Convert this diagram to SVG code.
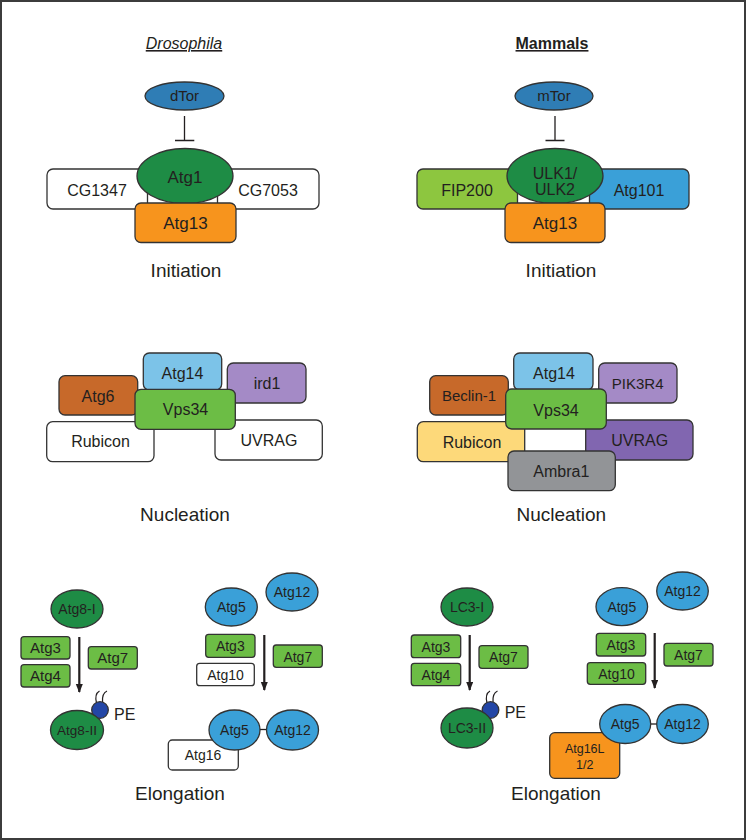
<svg xmlns="http://www.w3.org/2000/svg" width="746" height="840" viewBox="0 0 746 840">
<defs>
<style>
text{font-family:"Liberation Sans",Arial,sans-serif;fill:#231f20;text-anchor:middle}
.n{stroke:#333;stroke-width:1.3}
.w{fill:#fff}
.tor{fill:#2f7db5}
.dg{fill:#1e8c45}
.or{fill:#f7941d}
.lg{fill:#8dc63f}
.bl{fill:#3aa0d8}
.sky{fill:#7cc3e8}
.lav{fill:#a48ac6}
.br{fill:#c7692a}
.gr{fill:#6cbd45}
.yl{fill:#fdd97a}
.pu{fill:#8166b0}
.gy{fill:#929497}
.pe{fill:#2346a6}
.f19{font-size:19px}
.f17{font-size:17px}
.f16{font-size:16px}
.f15{font-size:15px}
.f14{font-size:14px}
.f13{font-size:13.5px}
.f12{font-size:12.5px}
.hd{font-size:16px;text-decoration:underline}
.ln{stroke:#231f20;stroke-width:1.3;fill:none}
.ar{stroke:#231f20;stroke-width:2.2;fill:none;marker-end:url(#ah)}
.tail{stroke:#231f20;stroke-width:1.2;fill:none}
</style>
<marker id="ah" markerUnits="userSpaceOnUse" markerWidth="10" markerHeight="8" refX="8" refY="3.5" orient="auto"><path d="M0,0 L9,3.5 L0,7 z" fill="#231f20"/></marker>
</defs>
<rect x="0" y="0" width="746" height="840" fill="#fff"/>
<rect x="1" y="1" width="744" height="838" fill="none" stroke="#3c3c3c" stroke-width="2"/>

<text class="hd" x="184" y="49" font-style="italic">Drosophila</text>
<text class="hd" x="552" y="49" font-weight="bold">Mammals</text>

<g id="connectors">
<path class="ln" d="M184.5,116 V140.5 M175,140.5 H194.3"/>
<path class="ln" d="M555,116 V140.5 M545.5,140.5 H564.5"/>
<line class="ar" x1="79.3" y1="637" x2="79.3" y2="692"/>
<line class="ar" x1="264.3" y1="635" x2="264.3" y2="690"/>
<line class="ar" x1="469.7" y1="635" x2="469.7" y2="690"/>
<line class="ar" x1="654.7" y1="633" x2="654.7" y2="688"/>
<line class="ln" x1="260" y1="729.5" x2="267" y2="729.5"/>
<line class="ln" x1="650.5" y1="724" x2="657" y2="724"/>
</g>

<!-- Drosophila initiation -->
<g id="dTor"><ellipse class="n tor" cx="184.5" cy="96" rx="39.5" ry="14"/><text class="f15" x="184.5" y="101">dTor</text></g>
<g id="CG1347"><rect class="n w" x="47" y="169" width="100.5" height="40" rx="6"/><text class="f16" x="97" y="196">CG1347</text></g>
<g id="CG7053"><rect class="n w" x="217.5" y="169" width="101.5" height="40" rx="6"/><text class="f16" x="268" y="196">CG7053</text></g>
<g id="Atg1"><ellipse class="n dg" cx="185" cy="176" rx="48" ry="27.5"/><text class="f17" x="185" y="183">Atg1</text></g>
<g id="Atg13-d"><rect class="n or" x="135" y="203" width="101" height="39.5" rx="6"/><text class="f17" x="185.5" y="229">Atg13</text></g>
<text class="f19" x="186" y="277">Initiation</text>

<!-- Mammal initiation -->
<g id="mTor"><ellipse class="n tor" cx="554" cy="96" rx="39" ry="14"/><text class="f15" x="554" y="101">mTor</text></g>
<g id="FIP200"><rect class="n lg" x="417" y="169" width="100.5" height="40" rx="6"/><text class="f16" x="467" y="196">FIP200</text></g>
<g id="Atg101"><rect class="n bl" x="589.5" y="169" width="99.5" height="40" rx="6"/><text class="f16" x="639" y="196">Atg101</text></g>
<g id="ULK"><ellipse class="n dg" cx="555" cy="176" rx="48" ry="27.5"/><text class="f16" x="555" y="178.5">ULK1/</text><text class="f16" x="555" y="195">ULK2</text></g>
<g id="Atg13-m"><rect class="n or" x="505" y="203" width="100" height="39.5" rx="6"/><text class="f17" x="555" y="229">Atg13</text></g>
<text class="f19" x="561" y="277">Initiation</text>

<!-- Drosophila nucleation -->
<g id="Atg6"><rect class="n br" x="59" y="375.7" width="78.7" height="39.3" rx="6"/><text class="f16" x="98" y="402">Atg6</text></g>
<g id="Atg14-d"><rect class="n sky" x="143.3" y="353" width="78.4" height="37" rx="6"/><text class="f16" x="182.5" y="379">Atg14</text></g>
<g id="ird1"><rect class="n lav" x="227.3" y="363" width="78.7" height="40" rx="6"/><text class="f16" x="267" y="389">ird1</text></g>
<g id="Rubicon-d"><rect class="n w" x="46.7" y="421.7" width="107.3" height="40" rx="6"/><text class="f16" x="100.5" y="447">Rubicon</text></g>
<g id="UVRAG-d"><rect class="n w" x="215" y="420" width="107.3" height="40" rx="6"/><text class="f16" x="269" y="446">UVRAG</text></g>
<g id="Vps34-d"><rect class="n gr" x="135" y="389.3" width="100.3" height="40" rx="6"/><text class="f16" x="185.5" y="415">Vps34</text></g>
<text class="f19" x="185" y="521">Nucleation</text>

<!-- Mammal nucleation -->
<g id="Beclin1"><rect class="n br" x="429.7" y="375.7" width="78.6" height="39.3" rx="6"/><text class="f15" x="469" y="400.5">Beclin-1</text></g>
<g id="Atg14-m"><rect class="n sky" x="513.7" y="353" width="79.3" height="37" rx="6"/><text class="f16" x="554" y="379">Atg14</text></g>
<g id="PIK3R4"><rect class="n lav" x="598.7" y="363" width="78.3" height="40" rx="6"/><text class="f15" x="637.7" y="389">PIK3R4</text></g>
<g id="Rubicon-m"><rect class="n yl" x="417.3" y="421.7" width="107.4" height="40" rx="6"/><text class="f16" x="472" y="447.5">Rubicon</text></g>
<g id="UVRAG-m"><rect class="n pu" x="585.7" y="420" width="107.3" height="40" rx="6"/><text class="f16" x="639.7" y="446">UVRAG</text></g>
<g id="Ambra1"><rect class="n gy" x="508" y="451" width="107.3" height="39.7" rx="6"/><text class="f16" x="561.3" y="477">Ambra1</text></g>
<g id="Vps34-m"><rect class="n gr" x="505.7" y="389" width="100.6" height="40" rx="6"/><text class="f16" x="556" y="416">Vps34</text></g>
<text class="f19" x="561.3" y="521">Nucleation</text>

<!-- Drosophila elongation -->
<g id="Atg8-I"><ellipse class="n dg" cx="77" cy="609" rx="26" ry="19"/><text class="f14" x="77" y="614">Atg8-I</text></g>
<g id="Atg3-d1"><rect class="n gr" x="21" y="636.7" width="49" height="22.3" rx="3"/><text class="f15" x="45.5" y="653">Atg3</text></g>
<g id="Atg4-d"><rect class="n gr" x="21" y="664.7" width="49" height="22.3" rx="3"/><text class="f15" x="45.5" y="681">Atg4</text></g>
<g id="Atg7-d1"><rect class="n gr" x="88.3" y="646.7" width="49" height="22.3" rx="3"/><text class="f15" x="112.8" y="663">Atg7</text></g>
<g id="PE-d"><path class="tail" d="M96.5,703 C95,697 96,693 99.5,691 M102.5,702.5 C102,696 103.5,692.5 107,691"/><circle class="n pe" cx="100" cy="710" r="8.3"/><text class="f16" x="114" y="720" style="text-anchor:start">PE</text></g>
<g id="Atg8-II"><ellipse class="n dg" cx="77" cy="730" rx="26.5" ry="19.5"/><text class="f13" x="77" y="735">Atg8-II</text></g>
<g id="Atg5-d1"><ellipse class="n bl" cx="231.3" cy="607" rx="26" ry="19"/><text class="f14" x="231.3" y="612">Atg5</text></g>
<g id="Atg12-d1"><ellipse class="n bl" cx="292" cy="592" rx="26" ry="19"/><text class="f14" x="292" y="597">Atg12</text></g>
<g id="Atg3-d2"><rect class="n gr" x="205.7" y="634.3" width="49.3" height="23" rx="3"/><text class="f14" x="230.3" y="651">Atg3</text></g>
<g id="Atg10-d"><rect class="n w" x="196.7" y="663.3" width="57.6" height="22.4" rx="3"/><text class="f14" x="225.5" y="680">Atg10</text></g>
<g id="Atg7-d2"><rect class="n gr" x="273.3" y="645" width="49" height="22.3" rx="3"/><text class="f14" x="297.8" y="661.5">Atg7</text></g>
<g id="Atg16"><rect class="n w" x="168.3" y="740" width="70" height="30" rx="4"/><text class="f14" x="203" y="760">Atg16</text></g>
<g id="Atg5-d2"><ellipse class="n bl" cx="234.5" cy="730" rx="25.5" ry="20"/><text class="f14" x="234.5" y="735">Atg5</text></g>
<g id="Atg12-d2"><ellipse class="n bl" cx="292.5" cy="730" rx="26" ry="20"/><text class="f14" x="292.5" y="735">Atg12</text></g>
<text class="f19" x="180" y="800">Elongation</text>

<!-- Mammal elongation -->
<g id="LC3-I"><ellipse class="n dg" cx="467" cy="607" rx="26" ry="19"/><text class="f14" x="467" y="612">LC3-I</text></g>
<g id="Atg3-m1"><rect class="n gr" x="411.3" y="635" width="49.4" height="22.7" rx="3"/><text class="f14" x="436" y="651.5">Atg3</text></g>
<g id="Atg4-m"><rect class="n gr" x="411.3" y="663.3" width="49.4" height="22.4" rx="3"/><text class="f14" x="436" y="680">Atg4</text></g>
<g id="Atg7-m1"><rect class="n gr" x="479" y="645.7" width="49" height="22.6" rx="3"/><text class="f14" x="503.5" y="662">Atg7</text></g>
<g id="PE-m"><path class="tail" d="M487,703 C485.5,697 486.5,693 490,691 M493,702.5 C492.5,696 494,692.5 497.5,691"/><circle class="n pe" cx="490.5" cy="710" r="8.3"/><text class="f16" x="504.7" y="718" style="text-anchor:start">PE</text></g>
<g id="LC3-II"><ellipse class="n dg" cx="467" cy="728" rx="26" ry="20"/><text class="f14" x="467" y="733">LC3-II</text></g>
<g id="Atg5-m1"><ellipse class="n bl" cx="621.8" cy="606.7" rx="25.8" ry="19"/><text class="f14" x="621.8" y="611.7">Atg5</text></g>
<g id="Atg12-m1"><ellipse class="n bl" cx="682.5" cy="591" rx="25.8" ry="19"/><text class="f14" x="682.5" y="596">Atg12</text></g>
<g id="Atg3-m2"><rect class="n gr" x="596.3" y="633.3" width="49.4" height="22.7" rx="3"/><text class="f14" x="621" y="650">Atg3</text></g>
<g id="Atg10-m"><rect class="n gr" x="587.3" y="662.7" width="58.4" height="21.6" rx="3"/><text class="f14" x="616.5" y="679">Atg10</text></g>
<g id="Atg7-m2"><rect class="n gr" x="664" y="643.3" width="49" height="22.7" rx="3"/><text class="f14" x="688.5" y="660">Atg7</text></g>
<g id="Atg16L"><rect class="n or" x="549.7" y="732.7" width="70" height="45.6" rx="5"/><text class="f12" x="584.7" y="752.5">Atg16L</text><text class="f12" x="584.7" y="768.5">1/2</text></g>
<g id="Atg5-m2"><ellipse class="n bl" cx="625.2" cy="724" rx="25.5" ry="19.5"/><text class="f14" x="625.2" y="729">Atg5</text></g>
<g id="Atg12-m2"><ellipse class="n bl" cx="682.5" cy="724" rx="25.8" ry="19.5"/><text class="f14" x="682.5" y="729">Atg12</text></g>
<text class="f19" x="556" y="800">Elongation</text>
</svg>
